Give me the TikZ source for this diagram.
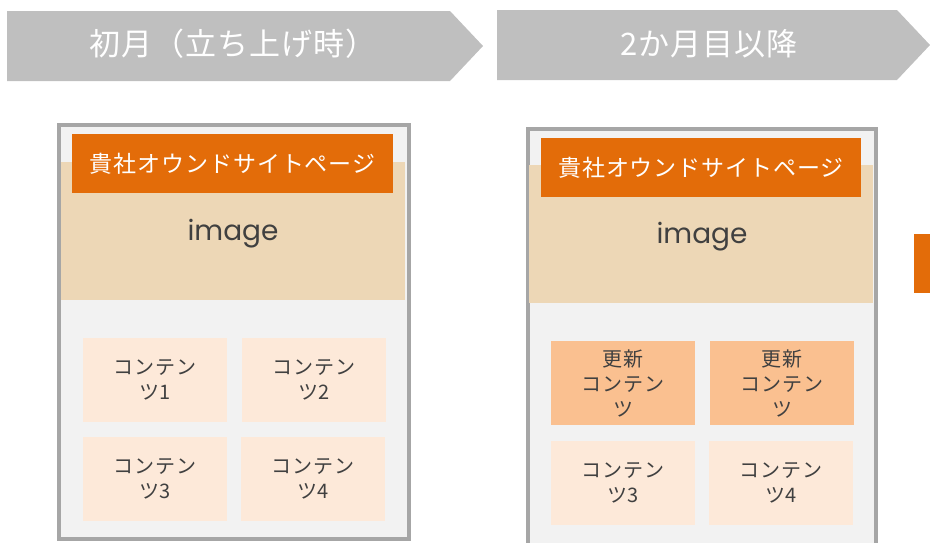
\documentclass[tikz,border=0pt]{standalone}
\usepackage{fontspec}
\newfontfamily\jp{Noto Sans CJK JP}
\newfontfamily\jpw{Noto Sans CJK JP}[LetterSpace=4]
\newfontfamily\jpc{Noto Sans CJK JP}[LetterSpace=3]
\newfontfamily\lat{Poppins}
\definecolor{chev}{HTML}{BFBFBF}
\definecolor{framec}{HTML}{A6A6A6}
\definecolor{framefill}{HTML}{F2F2F2}
\definecolor{beige}{HTML}{EDD7B6}
\definecolor{orng}{HTML}{E36C09}
\definecolor{cont}{HTML}{FDE9D9}
\definecolor{upd}{HTML}{FAC090}
\definecolor{txt}{HTML}{404040}
\tikzset{
  chevtext/.style={text=white, font=\jpc\fontsize{31}{34}\selectfont, inner sep=0pt},
  frame/.style={draw=framec, line width=4pt, fill=framefill, anchor=north west, inner sep=0pt, outer sep=0pt},
  imgbox/.style={fill=beige, anchor=north west, inner sep=0pt, outer sep=0pt, minimum width=344pt, minimum height=138pt},
  header/.style={fill=orng, text=white, anchor=north west, inner sep=0pt, outer sep=0pt, minimum height=59pt, font=\jpw\fontsize{23}{26}\selectfont},
  imgtext/.style={text=txt, anchor=base, inner sep=0pt, font=\lat\fontsize{28}{32}\selectfont},
  cbox/.style={fill=cont, text=txt, anchor=north west, inner sep=0pt, outer sep=0pt, minimum width=144pt, minimum height=84pt, align=center, font=\jpw\fontsize{20}{25}\selectfont},
  ubox/.style={cbox, fill=upd}
}
\begin{document}
\begin{tikzpicture}[x=1pt,y=-1pt]
\useasboundingbox (0,0) rectangle (930,542);
\clip (0,0) rectangle (930,542);
% chevrons
\fill[chev] (7,11) -- (450,11) -- (483,46) -- (450,81) -- (7,81) -- cycle;
\node[chevtext] (t1) at (233,44) {初月（立ち上げ時）};
\fill[chev] (497,10) -- (897,10) -- (930,45) -- (897,80) -- (497,80) -- cycle;
\node[chevtext] (t2) at (709,44) {2か月目以降};
% left page
\node[frame, minimum width=350pt, minimum height=414pt] (lf) at (59,125) {};
\node[imgbox] (li) at (61,162) {};
\node[header, minimum width=321pt] (lh) at (72,134) {貴社オウンドサイトページ};
\node[imgtext] (lt) at (233,240) {image};
\node[cbox] (l1) at (83,338) {コンテン\\ツ1};
\node[cbox] (l2) at (242,338) {コンテン\\ツ2};
\node[cbox] (l3) at (83,437) {コンテン\\ツ3};
\node[cbox] (l4) at (241,437) {コンテン\\ツ4};
% right page
\node[frame, minimum width=348pt, minimum height=450pt] (rf) at (528,129) {};
\node[imgbox] (ri) at (529,165) {};
\node[header, minimum width=320pt] (rh) at (541,138) {貴社オウンドサイトページ};
\node[imgtext] (rt) at (702,243) {image};
\node[ubox] (r1) at (551,341) {更新\\コンテン\\ツ};
\node[ubox] (r2) at (710,341) {更新\\コンテン\\ツ};
\node[cbox] (r3) at (551,441) {コンテン\\ツ3};
\node[cbox] (r4) at (709,441) {コンテン\\ツ4};
% edge of next element
\node[fill=orng, anchor=north west, inner sep=0pt, outer sep=0pt, minimum width=30pt, minimum height=59pt] (nx) at (914,234) {};
\end{tikzpicture}
\end{document}
